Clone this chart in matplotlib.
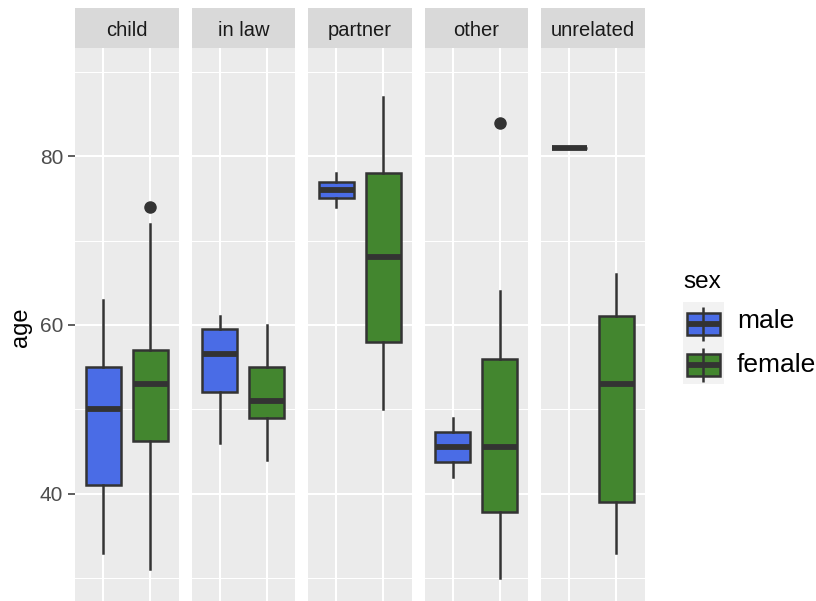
import matplotlib.pyplot as plt
from matplotlib.patches import Rectangle

plt.rcParams['font.family'] = ['Liberation Sans', 'DejaVu Sans']

relations = ['child', 'in law', 'partner', 'other', 'unrelated']
sexes = ['male', 'female']
fill_colors = ['#4A6CE6', '#43862F']

# five-number summaries of age, one entry per relation
male = dict(whislo=[33, 46, 74, 42, 81],
            q1=[41, 52, 75, 43.75, 81],
            med=[50, 56.5, 76, 45.5, 81],
            q3=[55, 59.5, 77, 47.25, 81],
            whishi=[63, 61, 78, 49, 81],
            fliers=[[], [], [], [], []])
female = dict(whislo=[31, 44, 50, 30, 33],
              q1=[46.25, 49, 58, 37.75, 39],
              med=[53, 51, 68, 45.5, 53],
              q3=[57, 55, 78, 56, 61],
              whishi=[72, 60, 87, 64, 66],
              fliers=[[74], [], [], [84], []])

W, H = 816, 601
fig = plt.figure(figsize=(W / 100, H / 100), dpi=100)


def box_px(x0, y0, x1, y1):
    # pixel box (top-left origin) -> figure fraction rect
    return [x0 / W, 1 - y1 / H, (x1 - x0) / W, (y1 - y0) / H]


edge = '#333333'
panel_left = [75, 191.5, 308, 424.5, 541]
panel_w = 103.5
panel_top = 47.5

for i, rel in enumerate(relations):
    x0 = panel_left[i]
    ax = fig.add_axes(box_px(x0, panel_top, x0 + panel_w, H))
    ax.set_facecolor('#EBEBEB')
    for s in ax.spines.values():
        s.set_visible(False)

    stats = []
    for d, name in zip([male, female], sexes):
        stats.append(dict(label=name, whislo=d['whislo'][i], q1=d['q1'][i],
                          med=d['med'][i], q3=d['q3'][i],
                          whishi=d['whishi'][i], fliers=d['fliers'][i]))
    bp = ax.bxp(stats, positions=[1, 2], widths=0.75, patch_artist=True,
                showcaps=False,
                boxprops=dict(edgecolor=edge, linewidth=1.8),
                medianprops=dict(color=edge, linewidth=4.2, solid_capstyle='butt'),
                whiskerprops=dict(color=edge, linewidth=1.8),
                flierprops=dict(marker='o', markerfacecolor=edge,
                                markeredgecolor=edge, markersize=8))
    for patch, c in zip(bp['boxes'], fill_colors):
        patch.set_facecolor(c)

    ax.set_xlim(0.4, 2.6)
    ax.set_ylim(27.25, 92.9)
    ax.set_xticks([1, 2])
    ax.set_yticks([40, 60, 80])
    ax.set_yticks([30, 50, 70, 90], minor=True)
    ax.set_axisbelow(True)
    ax.grid(which='major', color='white', linewidth=1.5)
    ax.grid(which='minor', axis='y', color='white', linewidth=0.75)
    ax.tick_params(axis='x', length=0, labelbottom=False)
    ax.tick_params(which='minor', length=0)
    if i == 0:
        ax.tick_params(axis='y', length=5, width=1.1, color=edge,
                       labelsize=15, labelcolor='#4D4D4D', pad=3.5)
    else:
        ax.tick_params(axis='y', length=0, labelleft=False)

    # facet strip
    sax = fig.add_axes(box_px(x0, 7.5, x0 + panel_w, panel_top))
    sax.set_facecolor('#D9D9D9')
    sax.set_xticks([])
    sax.set_yticks([])
    for s in sax.spines.values():
        s.set_visible(False)
    sax.text(0.5, (panel_top - 36.5) / 40, rel, ha='center', va='baseline',
             fontsize=14.5, color='#1A1A1A', transform=sax.transAxes)

fig.text(21 / W, 1 - 327 / H, 'age', rotation=90, ha='center', va='center',
         fontsize=17)

# legend
fig.text(683 / W, 1 - 288.5 / H, 'sex', ha='left', va='baseline', fontsize=17.5)
lax = fig.add_axes(box_px(683, 302, 723.5, 384))
lax.set_xlim(0, 40.5)
lax.set_ylim(82, 0)
lax.set_facecolor('#F2F2F2')
lax.set_xticks([])
lax.set_yticks([])
for s in lax.spines.values():
    s.set_visible(False)
for k, (name, c) in enumerate(zip(sexes, fill_colors)):
    top = k * 41
    lax.plot([20.25, 20.25], [top + 4.5, top + 38.5], color=edge, lw=1.8,
             solid_capstyle='butt')
    lax.add_patch(Rectangle((4, top + 10.5), 33, 22.5, facecolor=c,
                            edgecolor=edge, linewidth=1.8))
    lax.plot([4, 37], [top + 21.75, top + 21.75], color=edge, lw=4.2,
             solid_capstyle='butt')
    fig.text(737 / W, 1 - (328 + k * 43.5) / H, name, ha='left',
             va='baseline', fontsize=19)

fig.savefig('out.png', dpi=100)
